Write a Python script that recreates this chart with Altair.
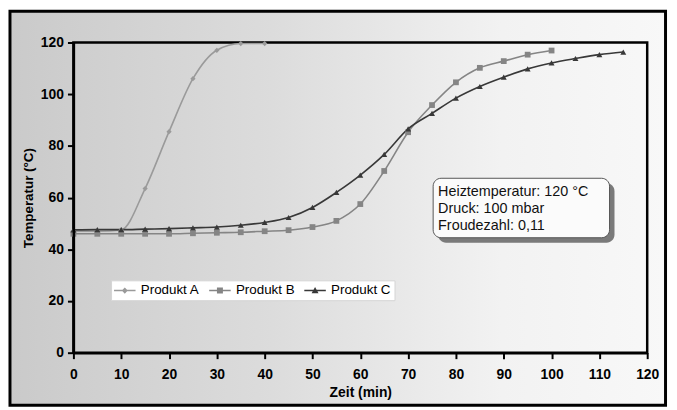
import altair as alt
import pandas as pd

# ---------------- data ----------------
PRODUCTS = ["Produkt A", "Produkt B", "Produkt C"]

ZEIT_A = [0, 5, 10, 15, 20, 25, 30, 35, 40]
TEMP_A = [47.0, 47.0, 47.5, 63.5, 85.5, 106.0, 117.0, 119.6, 119.6]

ZEIT_B = [0, 5, 10, 15, 20, 25, 30, 35, 40, 45, 50, 55, 60, 65, 70, 75, 80, 85, 90, 95, 100]
TEMP_B = [46.0, 46.0, 46.0, 46.0, 46.0, 46.2, 46.4, 46.6, 47.0, 47.4, 48.6, 51.0,
          57.5, 70.3, 85.3, 95.8, 104.6, 110.2, 112.8, 115.3, 116.9]

ZEIT_C = [0, 5, 10, 15, 20, 25, 30, 35, 40, 45, 50, 55, 60, 65, 70, 75, 80, 85,
          90, 95, 100, 105, 110, 115]
TEMP_C = [47.5, 47.6, 47.6, 47.8, 48.0, 48.3, 48.6, 49.3, 50.4, 52.3, 56.2, 62.0,
          68.7, 76.7, 86.6, 92.6, 98.5, 103.0, 106.6, 109.8, 112.1, 113.8, 115.3, 116.3]

X_TICKS = [0, 10, 20, 30, 40, 50, 60, 70, 80, 90, 100, 110, 120]
Y_TICKS = [0, 20, 40, 60, 80, 100, 120]
X_TITLE = "Zeit (min)"
Y_TITLE = "Temperatur (°C)"
INFO_LINES = ["Heiztemperatur: 120 °C", "Druck: 100 mbar", "Froudezahl: 0,11"]

# ---------------- styling ----------------
FONT = "Liberation Sans"
COLORS = ["#9a9a9a", "#858585", "#383838"]
SHAPES = ["diamond", "square", "triangle-up"]
SIZES = [28, 34, 36]
# legend symbols: a short line with the marker on it
LINE = "M-1,-0.12L2.1,-0.12L2.1,0.12L-1,0.12Z"
LEGEND_PATHS = [
    LINE + "M0.55,-0.45L0.98,0L0.55,0.45L0.12,0Z",
    LINE + "M0.12,-0.43L0.98,-0.43L0.98,0.43L0.12,0.43Z",
    LINE + "M0.55,-0.5L1.05,0.4L0.05,0.4Z",
]

W, H = 579, 313

rows = []
for p, xs, ys in zip(PRODUCTS, [ZEIT_A, ZEIT_B, ZEIT_C], [TEMP_A, TEMP_B, TEMP_C]):
    rows += [{"Produkt": p, "Zeit": x, "Temperatur": y} for x, y in zip(xs, ys)]
df = pd.DataFrame(rows)

x_enc = alt.X(
    "Zeit:Q",
    scale=alt.Scale(domain=[0, 120], nice=False, zero=False),
    axis=alt.Axis(values=X_TICKS, title=X_TITLE, grid=False, domainColor="black",
                  domainWidth=2.5, tickColor="black", tickWidth=2, tickSize=6,
                  labelFont=FONT, labelFontSize=14, labelFontWeight="bold",
                  labelColor="black", labelPadding=9, labelFlush=False,
                  titleFont=FONT, titleFontSize=14, titleFontWeight="bold",
                  titleColor="black", titlePadding=4, zindex=1),
)
y_enc = alt.Y(
    "Temperatur:Q",
    scale=alt.Scale(domain=[0, 120], nice=False),
    axis=alt.Axis(values=Y_TICKS, title=Y_TITLE, grid=False, domainColor="black",
                  domainWidth=2.5, tickColor="black", tickWidth=2, tickSize=6,
                  labelFont=FONT, labelFontSize=14, labelFontWeight="bold",
                  labelColor="black", labelPadding=4, labelFlush=False,
                  titleFont=FONT, titleFontSize=13.5, titleFontWeight="bold",
                  titleColor="black", titlePadding=5, zindex=1),
)

base = alt.Chart(df)
one = alt.Chart(alt.Data(values=[{"k": 0}]))

gradient = alt.LinearGradient(
    gradient="linear", x1=0, x2=1, y1=0, y2=0,
    stops=[alt.GradientStop(color="#cacaca", offset=0),
           alt.GradientStop(color="#dcdcdc", offset=0.4),
           alt.GradientStop(color="#f2f2f2", offset=0.75),
           alt.GradientStop(color="#f8f8f8", offset=1)],
)

frame = one.mark_rect(fill=gradient, stroke="black", strokeWidth=3).encode(
    x=alt.value(-64), x2=alt.value(597.5), y=alt.value(-31.5), y2=alt.value(366)
)
plot_border = one.mark_rect(fill="transparent", stroke="black", strokeWidth=2.5).encode(
    x=alt.value(0), x2=alt.value(W), y=alt.value(0), y2=alt.value(H)
)

layers = [frame, plot_border]
for p, col in zip(PRODUCTS, COLORS):
    layers.append(
        base.transform_filter(alt.datum.Produkt == p)
        .mark_line(color=col, strokeWidth=1.6, interpolate="monotone")
        .encode(x=x_enc, y=y_enc)
    )
for p, col, shp, sz in zip(PRODUCTS, COLORS, SHAPES, SIZES):
    layers.append(
        base.transform_filter(alt.datum.Produkt == p)
        .mark_point(filled=True, color=col, shape=shp, size=sz, opacity=1)
        .encode(x=x_enc, y=y_enc)
    )

shadow = one.mark_rect(fill="#7a7a7a", cornerRadius=8).encode(
    x=alt.value(368), x2=alt.value(546), y=alt.value(142), y2=alt.value(202)
)
box = one.mark_rect(fill="#fbfbfb", stroke="#555555", strokeWidth=1, cornerRadius=8).encode(
    x=alt.value(363), x2=alt.value(541), y=alt.value(137), y2=alt.value(197)
)
info = one.mark_text(text=INFO_LINES, align="left", baseline="alphabetic", font=FONT,
                     fontSize=14.5, lineHeight=17, color="#111111").encode(
    x=alt.value(368), y=alt.value(155)
)
layers += [shadow, box, info]

legend_def = alt.Legend(
    orient="none", legendX=38, legendY=240, direction="horizontal", title=None,
    fillColor="white", strokeColor="#d4d4d4", padding=3,
    labelFont=FONT, labelFontSize=13.5, labelColor="black", labelOffset=13,
    symbolSize=196, symbolStrokeWidth=0, symbolOpacity=1, columnPadding=9,
)
legend_layer = base.mark_point(filled=True, opacity=0).encode(
    x=x_enc, y=y_enc,
    color=alt.Color("Produkt:N", scale=alt.Scale(domain=PRODUCTS, range=COLORS), legend=legend_def),
    shape=alt.Shape("Produkt:N", scale=alt.Scale(domain=PRODUCTS, range=LEGEND_PATHS), legend=legend_def),
)
layers.append(legend_layer)

chart = (
    alt.layer(*layers)
    .properties(width=W, height=H,
                autosize=alt.AutoSizeParams(type="none"),
                padding={"left": 66, "top": 33, "right": 22, "bottom": 56})
    .configure_view(stroke=None)
    .configure(background="white")
)

chart.save("out.html", embed_options={"renderer": "svg", "actions": False})
